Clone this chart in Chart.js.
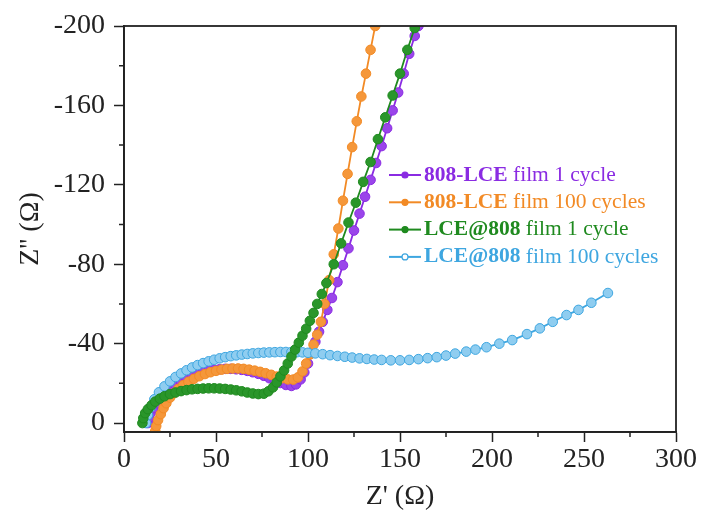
<!DOCTYPE html>
<html>
<head>
<meta charset="utf-8">
<script src="https://cdn.jsdelivr.net/npm/chart.js@4.4.0/dist/chart.umd.min.js"></script>
<style>
  html, body { margin: 0; padding: 0; background: #fff; }
</style>
</head>
<body>
<canvas id="myChart" width="704" height="516"></canvas>
<script>
// Nyquist data: [Z', Z''] in ohm
var lce808_1 = [[13,0],[13.5,-2.5],[14.5,-5],[16,-7.5],[18,-10],[20,-12.5],[22.5,-14.8],[25,-17],[28,-19],[31,-20.8],[34,-22.3],[37,-23.6],[40,-24.7],[43,-25.6],[46,-26.3],[49,-26.8],[52,-27.1],[55,-27.3],[58,-27.3],[61,-27.1],[64,-26.8],[67,-26.3],[70,-25.6],[73,-24.8],[76,-23.8],[79,-22.6],[82,-21.4],[85,-20.2],[88,-19.2],[91,-18.7],[93.5,-19.5],[96,-22],[98,-25.5],[100,-30],[102,-35.5],[104,-41],[106,-46],[108,-51],[110.5,-57],[113,-63],[116,-71],[119,-79.5],[122,-88],[125,-97],[128,-105.5],[131,-114],[134,-122.5],[137,-131],[140,-139.5],[143,-148.5],[146,-157.5],[149,-166.5],[152,-176],[155,-186],[158,-195],[160,-200]];
var lce808_100 = [[17,4],[17.5,1.5],[18.5,-1.5],[20,-4.5],[21.5,-7.5],[23,-10],[25,-12.8],[27,-15],[29.5,-17.2],[32,-19],[35,-20.8],[38,-22.3],[41,-23.6],[44,-24.7],[47,-25.6],[50,-26.3],[53,-26.9],[56,-27.3],[59,-27.5],[62,-27.5],[65,-27.3],[68,-26.9],[71,-26.4],[74,-25.8],[77,-25.1],[80,-24.3],[83,-23.4],[86,-22.6],[89,-22],[92,-21.9],[94.5,-23],[97,-26],[99,-30],[101,-34.5],[103,-39.5],[105,-44.5],[107,-51],[109,-60],[111.5,-72],[114,-85],[116.5,-98],[119,-112],[121.5,-125.5],[124,-139],[126.5,-152],[129,-164.5],[131.5,-176],[134,-188],[136.5,-200]];
var at808_1 = [[10,0],[10.5,-2.5],[11.5,-5],[13,-7],[15,-9],[17,-10.8],[19.5,-12.3],[22,-13.5],[25,-14.6],[28,-15.4],[31,-16.1],[34,-16.6],[37,-17],[40,-17.2],[43,-17.4],[46,-17.5],[49,-17.5],[52,-17.4],[55,-17.2],[58,-16.9],[61,-16.5],[64,-16],[67,-15.4],[70,-14.9],[73,-14.6],[76,-14.8],[78.5,-16],[81,-18],[83,-20.5],[85,-23.5],[87,-26.5],[89,-30],[91,-33.5],[93,-37],[95,-40.5],[97,-44],[99,-47.5],[101,-51.5],[103,-55.5],[105,-60],[107.5,-65],[110,-70.5],[114,-80],[118,-90.5],[122,-101],[126,-111],[130,-121.5],[134,-131.5],[138,-143],[142,-154],[146,-165],[150,-176],[154,-188],[158,-199]];
var at808_100 = [[12,0],[13,-4],[14.5,-8],[16.5,-12],[19,-15.5],[22,-18.5],[25,-21],[28,-23.2],[31,-25],[34,-26.6],[37,-28],[40,-29.2],[43,-30.2],[46,-31.1],[49,-31.9],[52,-32.6],[55,-33.2],[58,-33.7],[61,-34.1],[64,-34.5],[67,-34.8],[70,-35.1],[73,-35.3],[76,-35.5],[79,-35.6],[82,-35.7],[85,-35.8],[88,-35.8],[91,-35.8],[94,-35.7],[97,-35.6],[100,-35.4],[104,-35.1],[108,-34.7],[112,-34.2],[116,-33.8],[120,-33.4],[124,-33],[128,-32.6],[132,-32.3],[136,-32],[140,-31.8],[145,-31.6],[150,-31.6],[155,-31.8],[160,-32.2],[165,-32.7],[170,-33.2],[175,-34],[180,-35],[186,-36],[191,-37],[197,-38.2],[204,-40],[211,-41.8],[219,-44.8],[226,-47.7],[233,-51],[240.5,-54.4],[247,-57],[254,-60.6],[263,-65.5]];

var boldNames = ['808-LCE', '808-LCE', 'LCE@808', 'LCE@808'];
var restNames = [' film 1 cycle', ' film 100 cycles', ' film 1 cycle', ' film 100 cycles'];
var xTicks = [0, 50, 100, 150, 200, 250, 300];
var yTicks = [0, -40, -80, -120, -160, -200];
var xMinor = [25, 75, 125, 175, 225, 275];
var yMinor = [-20, -60, -100, -140, -180];

var colors = ['#8a2be2', '#f28a25', '#1f8a1f', '#3ea6e0'];
var fills = ['#9a45ea', '#f5973a', '#2a962a', '#8fcdf0'];
var serif = "'Liberation Serif', 'Times New Roman', serif";

function toPts(arr) {
    return arr.map(function (p) { return { x: p[0], y: p[1] }; });
}

var frameAndLegend = {
    id: 'frameAndLegend',
    afterDraw: function (chart) {
        var ctx = chart.ctx, a = chart.chartArea;
        ctx.save();
        ctx.strokeStyle = '#222';
        ctx.lineWidth = 1.8;
        ctx.strokeRect(a.left, a.top, a.right - a.left, a.bottom - a.top);
        // minor ticks
        var sx = chart.scales.x, sy = chart.scales.y;
        ctx.lineWidth = 1.5;
        ctx.beginPath();
        xMinor.forEach(function (v) {
            var px = sx.getPixelForValue(v);
            ctx.moveTo(px, a.bottom);
            ctx.lineTo(px, a.bottom + 5);
        });
        yMinor.forEach(function (v) {
            var py = sy.getPixelForValue(v);
            ctx.moveTo(a.left, py);
            ctx.lineTo(a.left - 5, py);
        });
        ctx.stroke();
        // legend
        chart.data.datasets.forEach(function (ds, i) {
            var y = 175 + i * 27.3;
            ctx.strokeStyle = colors[i];
            ctx.lineWidth = 2;
            ctx.beginPath();
            ctx.moveTo(389, y);
            ctx.lineTo(421, y);
            ctx.stroke();
            ctx.beginPath();
            ctx.arc(405, y, 3, 0, Math.PI * 2);
            ctx.fillStyle = i === 3 ? '#fff' : colors[i];
            ctx.fill();
            ctx.lineWidth = 1.2;
            ctx.stroke();
            ctx.fillStyle = colors[i];
            ctx.textBaseline = 'middle';
            ctx.font = 'bold 21.5px ' + serif;
            ctx.fillText(boldNames[i], 424, y);
            var w = ctx.measureText(boldNames[i]).width;
            ctx.font = '21.5px ' + serif;
            ctx.fillText(restNames[i], 424 + w, y);
        });
        ctx.restore();
    }
};

var sets = [lce808_1, lce808_100, at808_1, at808_100];
var order = [4, 3, 1, 2];

new Chart(document.getElementById('myChart'), {
    type: 'line',
    data: {
        datasets: sets.map(function (s, i) {
            return {
                label: boldNames[i] + restNames[i],
                data: toPts(s),
                borderColor: colors[i],
                backgroundColor: fills[i],
                pointBackgroundColor: fills[i],
                pointBorderColor: colors[i],
                pointBorderWidth: 1,
                pointRadius: 4.8,
                borderWidth: 1.8,
                tension: 0,
                order: order[i]
            };
        })
    },
    options: {
        responsive: false,
        animation: false,
        devicePixelRatio: 1,
        layout: { padding: { top: 26, right: 28, left: 0, bottom: 0 } },
        plugins: { legend: { display: false }, tooltip: { enabled: false } },
        scales: {
            x: {
                type: 'linear',
                min: 0,
                max: 300,
                afterBuildTicks: function (s) { s.ticks = xTicks.map(function (v) { return { value: v }; }); },
                afterFit: function (s) { s.height = 84; },
                ticks: { color: '#222', font: { family: serif, size: 28 }, padding: 1, maxRotation: 0 },
                grid: { drawOnChartArea: false, drawTicks: true, tickLength: 10, tickColor: '#222', tickWidth: 1.5 },
                border: { color: '#222', width: 1.8 },
                title: { display: true, text: "Z' (\u03a9)", color: '#222', font: { family: serif, size: 28 }, padding: { top: 0, bottom: 3 } }
            },
            y: {
                type: 'linear',
                reverse: true,
                min: -200,
                max: 4.5,
                afterBuildTicks: function (s) { s.ticks = yTicks.map(function (v) { return { value: v }; }); },
                afterFit: function (s) { s.width = 124; },
                ticks: { color: '#222', font: { family: serif, size: 28 }, padding: 9 },
                grid: { drawOnChartArea: false, drawTicks: true, tickLength: 10, tickColor: '#222', tickWidth: 1.5 },
                border: { color: '#222', width: 1.8 },
                title: { display: true, text: "Z'' (\u03a9)", color: '#222', font: { family: serif, size: 28 }, padding: { top: 14, bottom: 0 } }
            }
        }
    },
    plugins: [frameAndLegend]
});
</script>
</body>
</html>
